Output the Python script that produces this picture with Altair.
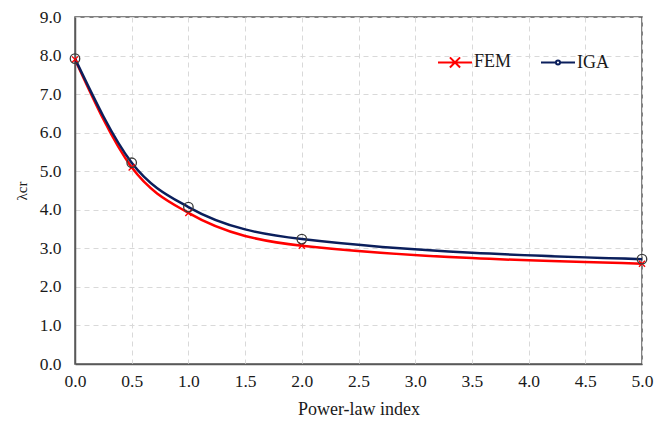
import altair as alt
import pandas as pd

index = [0.0, 0.5, 1.0, 2.0, 5.0]
fem = [7.90, 5.10, 3.92, 3.07, 2.60]
iga = [7.92, 5.22, 4.07, 3.24, 2.72]
x_ticks = [0.0, 0.5, 1.0, 1.5, 2.0, 2.5, 3.0, 3.5, 4.0, 4.5, 5.0]
y_ticks = [0.0, 1.0, 2.0, 3.0, 4.0, 5.0, 6.0, 7.0, 8.0, 9.0]
series = ["FEM", "IGA"]
line_colors = ["#FF0000", "#0B1F5C"]
marker_colors = ["#FF0000", "#3A3A3A"]

df = pd.DataFrame(
    {"n": index * 2, "lam": fem + iga, "series": ["FEM"] * len(fem) + ["IGA"] * len(iga)}
)

FONT = "Liberation Serif"

x = alt.X(
    "n:Q",
    scale=alt.Scale(domain=[0, 5], nice=False),
    axis=alt.Axis(
        values=x_ticks, format=".1f", title="Power-law index",
        labelFontSize=17.5, titleFontSize=18, labelPadding=8, titlePadding=11,
        titleFontWeight="normal", ticks=False, gridDash=[5, 4], gridColor="#D9D9D9",
        domainColor="#595959", domainWidth=1.5, labelColor="#1a1a1a", titleColor="#1a1a1a",
        labelFont=FONT, titleFont=FONT, labelFlush=False,
    ),
)
y = alt.Y(
    "lam:Q",
    scale=alt.Scale(domain=[0, 9], nice=False),
    axis=alt.Axis(
        values=y_ticks, format=".1f", title="λcr",
        labelFontSize=17.5, titleFontSize=15, labelPadding=14, titlePadding=10,
        titleFontWeight="normal", ticks=False, gridDash=[5, 4], gridColor="#D9D9D9",
        domainColor="#595959", domainWidth=1.5, labelColor="#1a1a1a", titleColor="#1a1a1a",
        labelFont=FONT, titleFont=FONT, labelFlush=False,
    ),
)

lines = alt.Chart(df).mark_line(interpolate="monotone", strokeWidth=2.5).encode(
    x=x,
    y=y,
    color=alt.Color("series:N", scale=alt.Scale(domain=series, range=line_colors), legend=None),
)

points = alt.Chart(df).mark_point(filled=False, strokeWidth=1.3, opacity=1).encode(
    x=x,
    y=y,
    stroke=alt.Stroke("series:N", scale=alt.Scale(domain=series, range=marker_colors), legend=None),
    shape=alt.Shape(
        "series:N",
        scale=alt.Scale(domain=series, range=["M-0.5,-0.5L0.5,0.5M-0.5,0.5L0.5,-0.5", "circle"]),
        legend=None,
    ),
    size=alt.Size("series:N", scale=alt.Scale(domain=series, range=[150, 90]), legend=None),
)

legend_cfg = dict(
    title=None, orient="none", direction="horizontal",
    legendX=362, legendY=27,
    symbolSize=1156, symbolStrokeWidth=2, labelFontSize=18, labelFont=FONT,
    labelColor="#1a1a1a", labelOffset=1, columnPadding=25, padding=0,
    symbolFillColor="white",
)

legend_layer = (
    alt.Chart(df)
    .transform_filter("false")
    .mark_point(filled=False, size=1156, strokeWidth=2, opacity=1)
    .encode(
        x=x,
        y=y,
        stroke=alt.Stroke(
            "series:N", scale=alt.Scale(domain=series, range=line_colors), legend=alt.Legend(**legend_cfg)
        ),
        shape=alt.Shape(
            "series:N",
            scale=alt.Scale(
                domain=series,
                range=[
                    "M-1,0L1,0M-0.3,-0.3L0.3,0.3M-0.3,0.3L0.3,-0.3",
                    "M-1,0L-0.12,0M0.12,0L1,0M-0.12,0A0.12,0.12 0 1 0 0.12,0A0.12,0.12 0 1 0 -0.12,0",
                ],
            ),
            legend=alt.Legend(**legend_cfg),
        ),
    )
)

chart = (
    alt.layer(lines, points, legend_layer)
    .resolve_scale(shape="independent", stroke="independent", size="independent")
    .properties(
        width=567,
        height=347,
        autosize=alt.AutoSizeParams(type="none"),
        padding={"left": 75, "top": 17, "right": 12, "bottom": 57},
        background="white",
    )
    .configure_view(stroke="#595959", strokeWidth=1.5)
    .configure_axis(labelFont=FONT, titleFont=FONT)
    .configure_legend(labelFont=FONT)
)

chart.save("out.html", embed_options={"renderer": "svg", "actions": False})
